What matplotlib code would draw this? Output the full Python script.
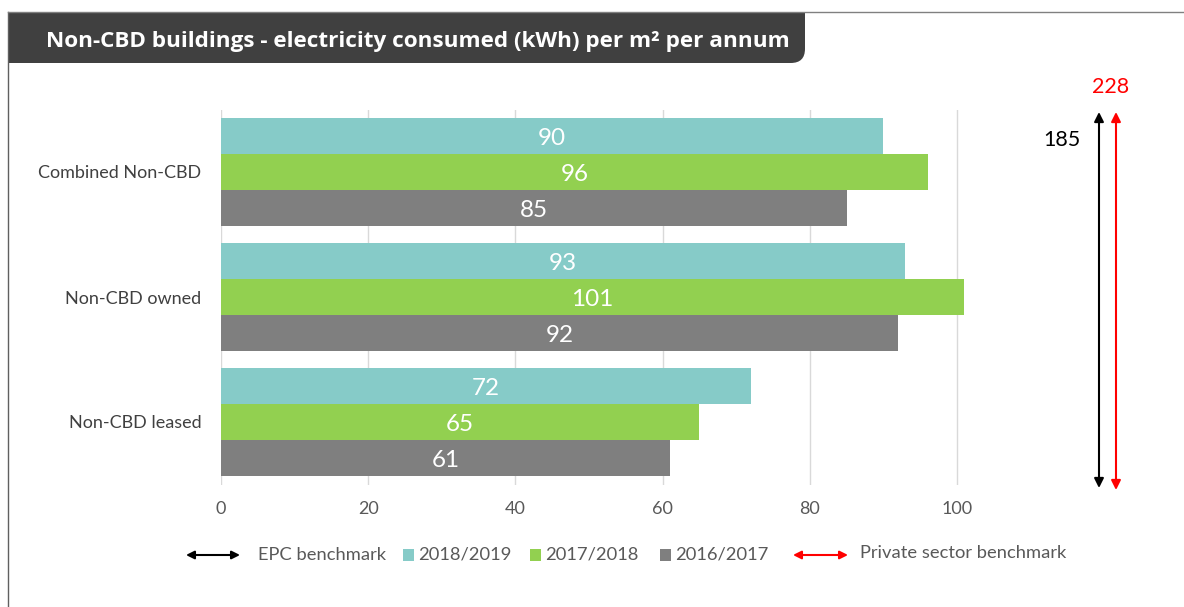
import matplotlib
matplotlib.use("Agg")
import matplotlib.pyplot as plt
from matplotlib.patches import FancyBboxPatch, Rectangle, FancyArrowPatch
from matplotlib.lines import Line2D

categories = ["Combined Non-CBD", "Non-CBD owned", "Non-CBD leased"]
series_names = ["2018/2019", "2017/2018", "2016/2017"]
values_1819 = [90, 93, 72]
values_1718 = [96, 101, 65]
values_1617 = [85, 92, 61]
colors = ["#86CBC8", "#92D050", "#7F7F7F"]
x_ticks = [0, 20, 40, 60, 80, 100]
epc_benchmark = 185
private_benchmark = 228
title = "Non-CBD buildings - electricity consumed (kWh) per m\u00b2 per annum"

W, H = 1184, 607
fig = plt.figure(figsize=(W / 100, H / 100), dpi=100)
fig.patch.set_facecolor("white")

def fx(px):
    return px / W

def fy(py):
    return 1 - py / H

# frame lines
fig.add_artist(Line2D([fx(8), fx(8)], [fy(12), 0], color="#606060", lw=1.0))
fig.add_artist(Line2D([fx(8), 1], [fy(12), fy(12)], color="#808080", lw=1.0))

# title banner
banner = FancyBboxPatch((fx(8), fy(63)), fx(797), fy(12) - fy(63),
                        boxstyle="round,pad=0,rounding_size=0.012",
                        transform=fig.transFigure, facecolor="#404040",
                        edgecolor="none", mutation_aspect=W / H)
fig.add_artist(banner)
fig.add_artist(Rectangle((fx(8), fy(63)), fx(30), fy(12) - fy(63),
                         transform=fig.transFigure, facecolor="#404040", edgecolor="none"))
fig.add_artist(Rectangle((fx(8), fy(40)), fx(797), fy(12) - fy(40),
                         transform=fig.transFigure, facecolor="#404040", edgecolor="none"))
fig.text(fx(418), fy(42), title, color="white", fontsize=16.2, fontweight="bold",
         family="Open Sans", ha="center", va="center")

# axes
ax_left, ax_right, ax_top, ax_bottom = 221, 1130, 109.5, 484.5
ax = fig.add_axes([fx(ax_left), fy(ax_bottom), fx(ax_right - ax_left), (ax_bottom - ax_top) / H])
px_per_unit = (957 - 221) / 100
ax.set_xlim(0, (ax_right - ax_left) / px_per_unit)
ax.set_ylim(2.5, -0.5)

bar_h = 0.284
offsets = [-0.288, 0.0, 0.288]
all_series = [values_1819, values_1718, values_1617]
for s, (vals, col, off) in enumerate(zip(all_series, colors, offsets)):
    for i, v in enumerate(vals):
        ax.barh(i + off, v, height=bar_h, color=col, zorder=3)
        ax.text(v / 2, i + off + 0.02, str(v), color="white", fontsize=17.5, family="Lato",
                ha="center", va="center", zorder=4)

for t in x_ticks:
    ax.axvline(t, color="#D9D9D9", lw=1, zorder=1)

ax.set_xticks(x_ticks)
ax.set_xticklabels([str(t) for t in x_ticks], color="#595959", fontsize=13, family="Lato")
ax.set_yticks(range(len(categories)))
ax.set_yticklabels(categories, color="#404040", fontsize=13, family="Lato")
ax.tick_params(axis="x", length=0, pad=12)
ax.tick_params(axis="y", length=0, pad=14)
for sp in ax.spines.values():
    sp.set_visible(False)

# benchmark arrows
x_black = (1099 - 221) / px_per_unit
x_red = (1116 - 221) / px_per_unit
def ypix(py):
    return (py - ax_top) / 125 - 0.5
ax.annotate("", xy=(x_black, ypix(112)), xytext=(x_black, ypix(488)),
            arrowprops=dict(arrowstyle="<|-|>", color="black", lw=1.5,
                            mutation_scale=14, shrinkA=0, shrinkB=0),
            annotation_clip=False)
ax.annotate("", xy=(x_red, ypix(112)), xytext=(x_red, ypix(490)),
            arrowprops=dict(arrowstyle="<|-|>", color="red", lw=1.5,
                            mutation_scale=14, shrinkA=0, shrinkB=0),
            annotation_clip=False)
fig.text(fx(1062), fy(140), str(epc_benchmark), color="black", fontsize=15.5,
         family="Lato", ha="center", va="center")
fig.text(fx(1111), fy(87), str(private_benchmark), color="red", fontsize=15.5,
         family="Lato", ha="center", va="center")

# legend (manual)
ly = fy(555)
def h_arrow(x0, x1, color):
    fig.add_artist(FancyArrowPatch(
        (fx(x0), ly), (fx(x1), ly), transform=fig.transFigure,
        arrowstyle="<|-|>", color=color, lw=1.5, mutation_scale=12,
        shrinkA=0, shrinkB=0))
h_arrow(186, 240, "black")
fig.text(fx(258), ly, "EPC benchmark", color="#595959", fontsize=13.2, family="Lato",
         ha="left", va="center")
sq = [(403, colors[0], "2018/2019"), (530, colors[1], "2017/2018"), (660, colors[2], "2016/2017")]
for xs, col, lab in sq:
    fig.add_artist(Rectangle((fx(xs), fy(561)), fx(11), fy(549) - fy(561),
                             transform=fig.transFigure, facecolor=col, edgecolor="none"))
    fig.text(fx(xs + 15), ly, lab, color="#595959", fontsize=13.2, family="Lato",
             ha="left", va="center")
h_arrow(793, 848, "red")
fig.text(fx(860), fy(553), "Private sector benchmark", color="#595959", fontsize=13.2,
         family="Lato", ha="left", va="center")

fig.savefig("out.png", dpi=100)
